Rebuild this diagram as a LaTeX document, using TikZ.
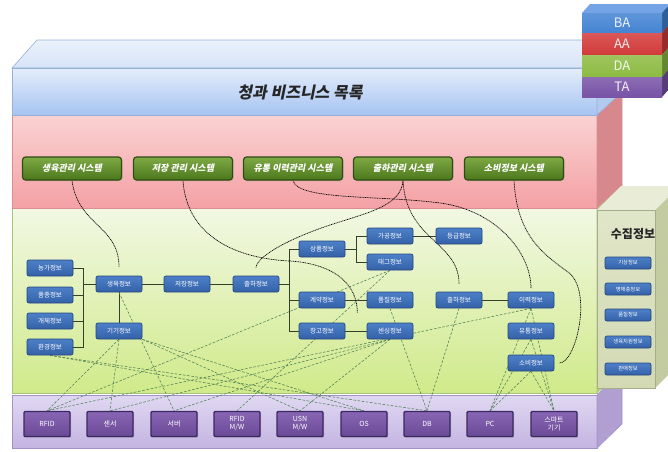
\documentclass[tikz,border=0pt]{standalone}
\usepackage{fontspec}
\setmainfont{Noto Sans CJK KR}
\newfontfamily\slanted[FakeSlant=0.2]{Noto Sans CJK KR}
\usetikzlibrary{calc,shadows}

% slab colours
\definecolor{baTop}{HTML}{E4EDFB}
\definecolor{baBot}{HTML}{A7C4F2}
\definecolor{baLid}{HTML}{D6E3F8}
\definecolor{baSide}{HTML}{B3C9EE}
\definecolor{baEdge}{HTML}{98B0D8}
\definecolor{aaTop}{HTML}{FAD2D3}
\definecolor{aaBot}{HTML}{F4A1A4}
\definecolor{aaSide}{HTML}{D7888D}
\definecolor{aaEdge}{HTML}{D98F92}
\definecolor{daTop}{HTML}{F2F8E4}
\definecolor{daBot}{HTML}{D0EA8A}
\definecolor{daSide}{HTML}{B9D288}
\definecolor{daEdge}{HTML}{A6C47C}
\definecolor{taTop}{HTML}{E0D8F2}
\definecolor{taBot}{HTML}{C4B4E2}
\definecolor{taSide}{HTML}{B09FD0}
\definecolor{taEdge}{HTML}{A392C6}
\definecolor{pnFront}{HTML}{E0E6C8}
\definecolor{pnFrontB}{HTML}{D2D9B3}
\definecolor{pnLid}{HTML}{E9EDD8}
\definecolor{pnSide}{HTML}{C3CBA0}
% box colours
\definecolor{infoTop}{HTML}{4D80C8}
\definecolor{infoBot}{HTML}{3461A8}
\definecolor{infoEdge}{HTML}{25467E}
\definecolor{sysTop}{HTML}{7FA944}
\definecolor{sysBot}{HTML}{4B781D}
\definecolor{sysEdge}{HTML}{2E4C14}
\definecolor{devTop}{HTML}{8866B3}
\definecolor{devBot}{HTML}{6A4996}
\definecolor{devEdge}{HTML}{3D2863}
\definecolor{wireGreen}{HTML}{4F7F55}
\definecolor{linkDark}{HTML}{34402A}
% legend colours
\definecolor{lgBA}{HTML}{4383D2}
\definecolor{lgAA}{HTML}{D23A3A}
\definecolor{lgDA}{HTML}{8DBB42}
\definecolor{lgTA}{HTML}{7853A6}
\definecolor{lgLid}{HTML}{74A4E6}

\pgfdeclarelayer{slabs}
\pgfdeclarelayer{wires}
\pgfsetlayers{slabs,wires,main}

\begin{document}
\begin{tikzpicture}[x=1pt,y=-1pt,
  info/.style={draw=infoEdge, line width=0.7pt, rounded corners=2pt,
    top color=infoTop, bottom color=infoBot, minimum width=46pt,
    minimum height=16pt, inner sep=0pt, text=white,
    font=\fontsize{6.5}{6.5}\selectfont},
  small/.style={minimum height=12pt, font=\fontsize{5.3}{5.3}\selectfont},
  sysbox/.style={draw=sysEdge, line width=1.2pt, rounded corners=3pt,
    top color=sysTop, bottom color=sysBot, minimum width=99pt,
    minimum height=23pt, inner sep=0pt, text=white,
    font=\slanted\bfseries\fontsize{9}{9}\selectfont,
    drop shadow={opacity=0.35, shadow xshift=1pt, shadow yshift=-1pt}},
  tech/.style={draw=devEdge, line width=1.4pt, rounded corners=1pt,
    top color=devTop, bottom color=devBot, minimum width=46pt,
    minimum height=25pt, inner sep=0pt, text=white, align=center,
    font=\fontsize{7}{8}\selectfont,
    drop shadow={opacity=0.45, shadow xshift=1.2pt, shadow yshift=-1.2pt}},
  taline/.style={draw=wireGreen, line width=0.55pt, dash pattern=on 2.6pt off 1.6pt},
  sysline/.style={draw=black, line width=0.7pt, dash pattern=on 1pt off 0.7pt},
  link/.style={draw=linkDark, line width=0.8pt},
  lgtext/.style={text=white, opacity=0.9, font=\fontsize{13}{13}\selectfont}
]
\useasboundingbox (0,0) rectangle (668,451);

\begin{pgfonlayer}{slabs}
\fill[white] (0,0) rectangle (668,451);
% technology slab
\shadedraw[top color=taTop, bottom color=taBot, draw=taEdge, line width=0.6pt] (12,395) rectangle (597,448);
\filldraw[fill=taSide, draw=taEdge, line width=0.6pt] (597,395) -- (622,370) -- (622,424) -- (597,448) -- cycle;
% data slab
\shadedraw[top color=daTop, bottom color=daBot, draw=daEdge, line width=0.8pt] (12,208) rectangle (597,393);
\filldraw[fill=daSide, draw=daEdge, line width=0.6pt] (597,208) -- (622,185) -- (622,370) -- (597,393) -- cycle;
% application slab
\shadedraw[top color=aaTop, bottom color=aaBot, draw=aaEdge, line width=0.6pt] (12,115) rectangle (597,208);
\filldraw[fill=aaSide, draw=aaEdge, line width=0.6pt] (597,115) -- (622,92) -- (622,185) -- (597,208) -- cycle;
% business slab
\shadedraw[top color=baLid!50!white, bottom color=baLid, draw=baEdge, line width=0.6pt] (12,68) -- (37,40) -- (622,40) -- (597,68) -- cycle;
\shadedraw[top color=baTop, bottom color=baBot, draw=baEdge, line width=0.6pt] (12,68) rectangle (597,115);
\filldraw[fill=baSide, draw=baEdge, line width=0.6pt] (597,68) -- (622,40) -- (622,92) -- (597,115) -- cycle;
% collected-data panel
\fill[pnSide] (655,210) -- (679,186) -- (679,364) -- (655,388) -- cycle;
\fill[pnLid] (597,210) -- (621,186) -- (679,186) -- (655,210) -- cycle;
\shadedraw[top color=pnFront, bottom color=pnFrontB, draw=pnSide!85!black, line width=0.5pt] (597,210) rectangle (655,388);
% legend block
\fill[lgLid] (582,13) -- (590,4) -- (670,4) -- (662,13) -- cycle;
\foreach \ya/\yb/\c in {13/33/lgBA, 33/55/lgAA, 55/77/lgDA, 77/97/lgTA} {
  \fill[\c!72!black] (662,\ya) -- (670,{\ya-9}) -- (670,{\yb-9}) -- (662,\yb) -- cycle;
  \shade[top color=\c!85!white, bottom color=\c] (582,\ya) rectangle (662,\yb);
}
\end{pgfonlayer}

% legend labels
\node[lgtext] (lgba) at (622,23) {BA};
\node[lgtext] (lgaa) at (622,44) {AA};
\node[lgtext] (lgda) at (622,66) {DA};
\node[lgtext] (lgta) at (622,87) {TA};

% business title
\node[font=\slanted\bfseries\fontsize{16}{16}\selectfont, text=black!85] (title) at (300,93) {청과 비즈니스 목록};

% application systems
\node[sysbox] (sysA) at (72,168.5) {생육관리 시스템};
\node[sysbox] (sysB) at (183,168.5) {저장 관리 시스템};
\node[sysbox] (sysC) at (293,168.5) {유통 이력관리 시스템};
\node[sysbox] (sysD) at (403,168.5) {출하관리 시스템};
\node[sysbox] (sysE) at (514,168.5) {소비정보 시스템};

% data entities
\node[info] (farm)  at (50,268) {농가정보};
\node[info] (breed) at (50,295) {품종정보};
\node[info] (indiv) at (50,321) {개체정보};
\node[info] (env)   at (50,347) {환경정보};
\node[info] (grow)  at (119,284) {생육정보};
\node[info] (dev)   at (119,331) {기기정보};
\node[info] (store) at (187,284) {저장정보};
\node[info] (ship)  at (256,284) {출하정보};
\node[info] (prod)  at (322,249) {상품정보};
\node[info] (contr) at (322,300) {계약정보};
\node[info] (ware)  at (322,331) {창고정보};
\node[info] (proc)  at (390,236) {가공정보};
\node[info] (tag)   at (390,262) {태그정보};
\node[info] (qual)  at (390,300) {품질정보};
\node[info] (sens)  at (390,331) {센싱정보};
\node[info] (grade) at (459,236) {등급정보};
\node[info] (shipb) at (459,300) {출하정보};
\node[info] (trace) at (531,300) {이력정보};
\node[info] (dist)  at (531,331) {유통정보};
\node[info] (cons)  at (531,363) {소비정보};

% collected data
\node[font=\bfseries\fontsize{12}{12}\selectfont, text=black!85] (coll) at (633,234) {수집정보};
\node[info, small] (col1) at (628,263) {기상정보};
\node[info, small] (col2) at (628,289) {병해충정보};
\node[info, small] (col3) at (628,315) {품질정보};
\node[info, small] (col4) at (628,342) {생육지원정보};
\node[info, small] (col5) at (628,369) {판매정보};

% technology components
\node[tech] (rfid)   at (47,424)  {RFID};
\node[tech] (sensor) at (110,424) {센서};
\node[tech] (server) at (174,424) {서버};
\node[tech] (rfidmw) at (237,424) {RFID\\M/W};
\node[tech] (usnmw)  at (300,424) {USN\\M/W};
\node[tech] (os)     at (364,424) {OS};
\node[tech] (db)     at (427,424) {DB};
\node[tech] (pc)     at (490,424) {PC};
\node[tech] (smart)  at (554,424) {스마트\\기기};

\begin{pgfonlayer}{wires}
% entity relations
\coordinate (bus1) at ($(grow.west)+(-12,0)$);
\foreach \n in {farm,breed,indiv,env} \draw[link] (\n.east) -| (bus1);
\draw[link] (bus1) -- (grow.west);
\draw[link] (grow) -- (dev);
\draw[link] (grow) -- (store);
\draw[link] (store) -- (ship);
\coordinate (bus2) at ($(ship.east)+(10,0)$);
\draw[link] (ship.east) -- (bus2);
\foreach \n in {prod,contr,ware} \draw[link] (bus2) |- (\n.west);
\coordinate (bus3) at ($(prod.east)+(11,0)$);
\draw[link] (prod.east) -- (bus3);
\foreach \n in {proc,tag} \draw[link] (bus3) |- (\n.west);
\draw[link] (proc) -- (grade);
\draw[link] (contr) -- (qual);
\draw[link] (ware) -- (sens);
\draw[link] (shipb) -- (trace);

% systems to the data they manage
\coordinate (wareTip) at ($(ware.north east)+(12,-10)$);
\draw[sysline, shorten >=9pt] (sysA.south) .. controls +(6,45) and +(0,-50) .. (grow.north);
\draw[sysline] (sysB.south) .. controls +(3,48) and +(-65,-3) .. (290,261) .. controls +(45,3) and +(0,-28) .. (wareTip);
\draw[sysline, shorten >=3pt] (sysC.south) .. controls +(5,20) and +(-60,-8) .. (440,203) .. controls +(55,7) and +(0,-40) .. (trace.north);
\draw[sysline, shorten >=8pt] (sysD.south) .. controls +(-2,25) and +(40,-13) .. (330,225) .. controls +(-45,15) and +(0,-18) .. (ship.north);
\draw[sysline, shorten >=8pt] (sysD.south) .. controls +(3,60) and +(0,-50) .. (shipb.north);
\draw[sysline, shorten >=5pt] (sysE.south) .. controls +(3,55) and +(-25,-18) .. (568,272) .. controls +(25,18) and +(22,0) .. (cons.east);

% data to technology
\draw[taline] (grow.south) -- (server.north);
\draw[taline] (dev.south) -- (rfid.north);
\draw[taline] (dev.south) -- (sensor.north);
\draw[taline] (dev.south east) -- (usnmw.north);
\draw[taline] (dev.south east) -- (os.north);
\draw[taline] (env.south) -- (os.north);
\draw[taline] (env.south) -- (db.north);
\draw[taline] (tag.south) -- (rfid.north);
\draw[taline] (tag.south) -- (rfidmw.north);
\draw[taline] (sens.south) -- (sensor.north);
\draw[taline] (sens.south) -- (server.north);
\draw[taline] (sens.south) -- (usnmw.north);
\draw[taline] (qual.south) -- (db.north);
\draw[taline] (shipb.south) -- (db.north);
\draw[taline] (trace.south) -- (rfid.north);
\foreach \n in {trace,dist,cons} {
  \draw[taline] (\n.south) -- (pc.north);
  \draw[taline] (\n.south) -- (smart.north);
}
\end{pgfonlayer}
\end{tikzpicture}
\end{document}
